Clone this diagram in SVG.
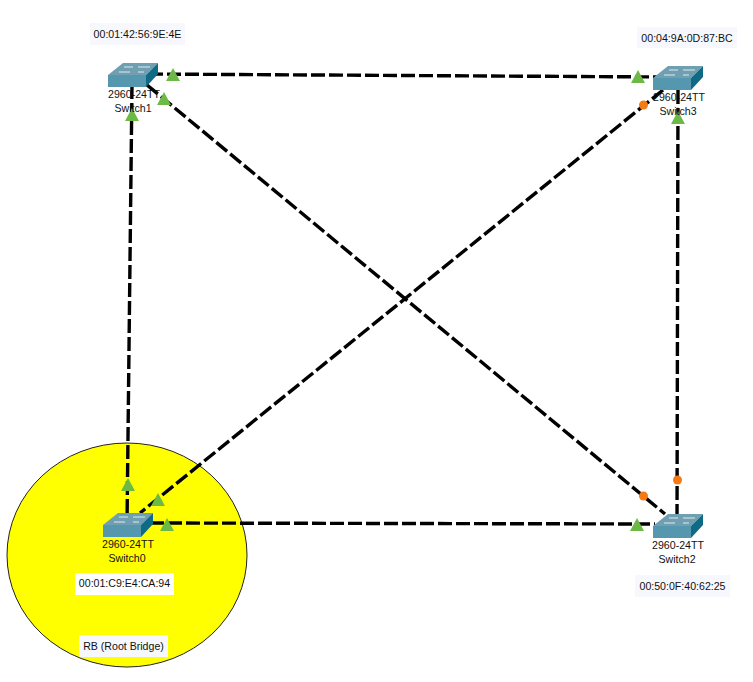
<svg xmlns="http://www.w3.org/2000/svg" width="753" height="682" viewBox="0 0 753 682">
<style>
.lnk{fill:none;stroke:#000;stroke-width:3.4;stroke-dasharray:14 4}
.up{fill:#6cba45}
.dn{fill:#f57a14}
.t{font-family:"Liberation Sans",Arial,sans-serif;font-size:10.6px;fill:#111;text-anchor:middle}
.bg{fill:#f7f8fd}
.top{fill:#6f9fb1}
.front{fill:#5597af}
.side{fill:#0f6a85}
.g{stroke:#dcebf0;stroke-width:1;fill:none}
</style>
<defs>
<g id="sw">
<path class="top" d="M0 12 L15 0 L50 0 L38 12 Z"/>
<path class="front" d="M0 12 H38 V24 H0 Z"/>
<path class="side" d="M38 12 L50 0 V11 L38 24 Z"/>
<path class="g" d="M16 4H25M30 4H42M11 9H22M30 9H36"/>
</g>
<path id="tri" d="M0 -7 L7 6 H-7 Z"/>
</defs>
<rect width="753" height="682" fill="#fff"/>
<ellipse cx="127" cy="555" rx="120" ry="112" fill="#ff0" stroke="#222" stroke-width="1"/>
<g id="connectors">
<path class="lnk" d="M132 85 L127 525"/>
<path class="lnk" stroke-dashoffset="15" d="M146 74 L665 77"/>
<path class="lnk" d="M147 85 L665 514"/>
<path class="lnk" d="M663 90 L140 513"/>
<path class="lnk" d="M678 90 L677 525"/>
<path class="lnk" d="M150 523 L655 524"/>
</g>
<g id="lights">
<use href="#tri" class="up" x="173" y="75"/>
<use href="#tri" class="up" x="164" y="99"/>
<use href="#tri" class="up" x="132" y="115"/>
<use href="#tri" class="up" x="638" y="77"/>
<use href="#tri" class="up" x="678" y="118"/>
<use href="#tri" class="up" x="128" y="485"/>
<use href="#tri" class="up" x="158" y="500"/>
<use href="#tri" class="up" x="167" y="525"/>
<use href="#tri" class="up" x="637" y="525"/>
<circle class="dn" cx="643.500" cy="105" r="4.500"/>
<circle class="dn" cx="643.500" cy="496" r="4.500"/>
<circle class="dn" cx="677.500" cy="480" r="4.500"/>
</g>
<g id="Switch1"><use href="#sw" x="108" y="63"/><text class="t" x="134" y="98">2960-24TT</text><text class="t" x="133" y="112">Switch1</text></g>
<g id="Switch3"><use href="#sw" x="653" y="66"/><text class="t" x="679" y="101">2960-24TT</text><text class="t" x="678" y="115">Switch3</text></g>
<g id="Switch0"><use href="#sw" x="103" y="513"/><text class="t" x="128" y="548">2960-24TT</text><text class="t" x="127" y="562">Switch0</text></g>
<g id="Switch2"><use href="#sw" x="653" y="514"/><text class="t" x="678" y="549">2960-24TT</text><text class="t" x="677" y="563">Switch2</text></g>
<g id="label-s1"><rect class="bg" x="90" y="23" width="95" height="22"/><text class="t" x="137.500" y="38">00:01:42:56:9E:4E</text></g>
<g id="label-s3"><rect class="bg" x="637" y="27" width="100" height="21"/><text class="t" x="687" y="42">00:04:9A:0D:87:BC</text></g>
<g id="label-s0"><rect x="75" y="573" width="99" height="22" fill="#fff"/><text class="t" x="124.500" y="587">00:01:C9:E4:CA:94</text></g>
<g id="label-s2"><rect class="bg" x="635" y="575" width="95" height="22"/><text class="t" x="682.500" y="590">00:50:0F:40:62:25</text></g>
<g id="label-rb"><rect class="bg" x="79" y="635" width="89" height="22"/><text class="t" x="123.500" y="650">RB (Root Bridge)</text></g>
</svg>
